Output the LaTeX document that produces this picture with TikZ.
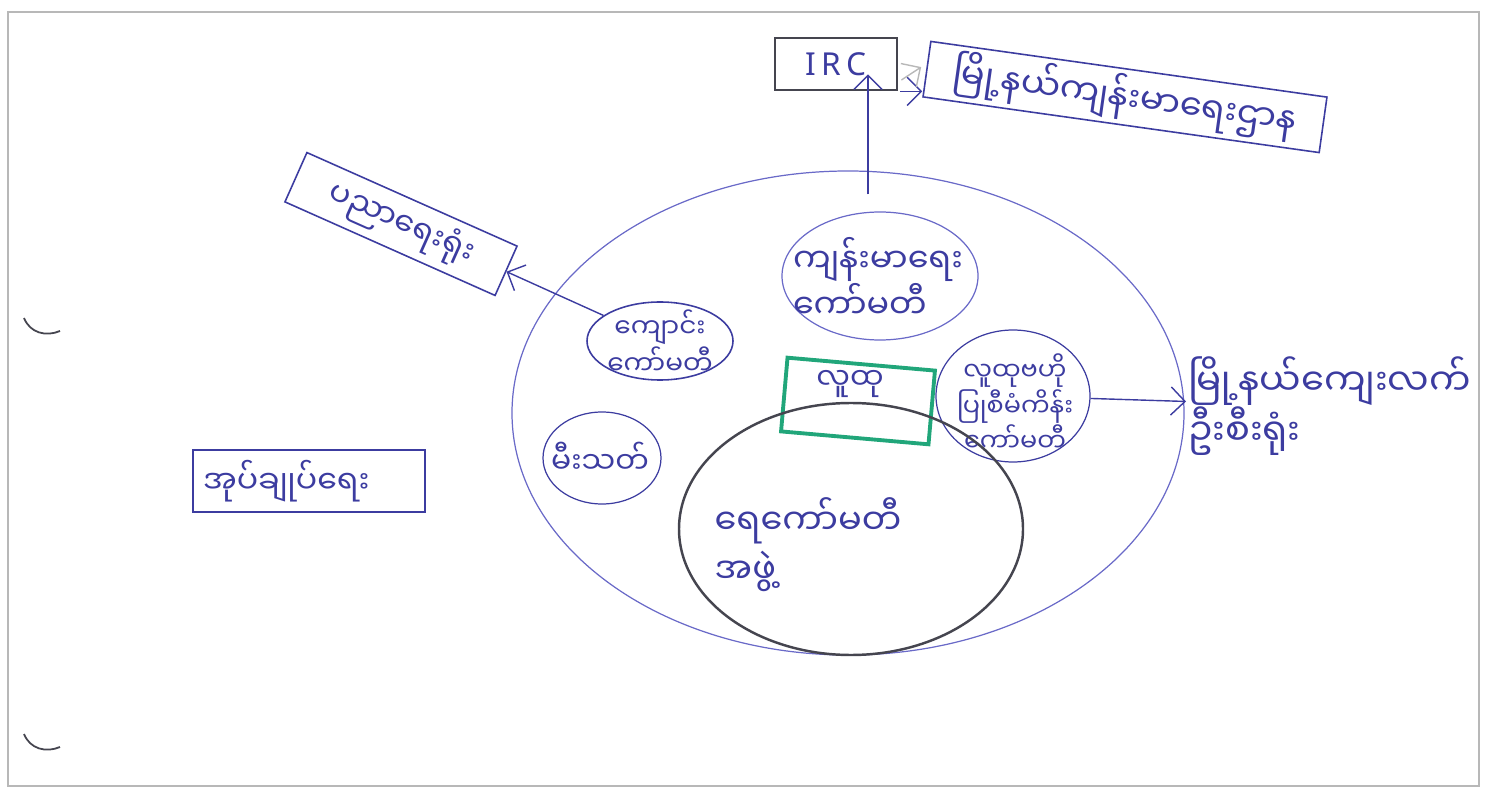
\documentclass[tikz,border=0pt]{standalone}
\usepackage{fontspec}
\setmainfont{Noto Sans}
\newfontfamily\mmfont[Script=Myanmar]{Noto Sans Myanmar UI}
\usetikzlibrary{arrows.meta,shapes.geometric}
\definecolor{ink}{HTML}{3C3CA0}
\definecolor{pale}{HTML}{6A6AC8}
\definecolor{lead}{HTML}{45454F}
\definecolor{mint}{HTML}{21A67A}
\definecolor{sheet}{HTML}{B8B8B8}

\begin{document}
\begin{tikzpicture}[x=0.02cm, y=-0.02cm]

        \def\px{0.02cm}             % one pixel of the scan
        \tikzstyle{committee}=[ellipse,draw=pale,line width=0.7pt,inner sep=0pt]
        \tikzstyle{annot}=[text=ink,align=center,inner sep=1pt]
        \tikzstyle{office}=[rectangle,draw=ink,line width=0.9pt,inner sep=0pt,text=ink]
        \tikzstyle{arr}=[->,arrows={-Straight Barb[length=8pt]},draw=ink,line width=0.8pt]
        \tikzset{fontscale/.style 2 args = {font={\mmfont\fontsize{#1pt}{#2pt}\selectfont}}}

        \useasboundingbox (0,0) rectangle (1491,790);

        % Draw the sheet
        \draw[sheet, line width=0.6pt] (8,12) rectangle (1479,786);
        \draw[lead, line width=1pt] (24,318) .. controls (30,333) and (46,337) .. (60,331);
        \draw[lead, line width=1pt] (24,734) .. controls (30,749) and (46,753) .. (60,747);

        % Draw the camp and its committees
        \node[committee, minimum width=672*\px, minimum height=484*\px] (camp) at (848,413) {};
        \node[committee, minimum width=196*\px, minimum height=128*\px] (health) at (880,276) {};
        \node[annot, align=left, fontscale={19}{26}] (healthlbl) at (878,278) {ကျန်းမာရေး\\ကော်မတီ};
        \node[committee, draw=ink, line width=0.9pt, minimum width=146*\px, minimum height=78*\px] (school) at (660,341) {};
        \node[annot, fontscale={15}{17}] (schoollbl) at (660,342) {ကျောင်း\\ကော်မတီ};
        \node[committee, draw=ink, minimum width=118*\px, minimum height=92*\px] (fire) at (602,458) {};
        \node[annot, fontscale={17}{20}] (firelbl) at (600,458) {မီးသတ်};
        \node[committee, draw=ink, minimum width=154*\px, minimum height=132*\px] (project) at (1013,396) {};
        \node[annot, fontscale={14.5}{18}] (projectlbl) at (1015,403) {လူထုဗဟို\\ပြုစီမံကိန်း\\ကော်မတီ};

        % Draw the community box and the water committee
        \node[office, draw=mint, line width=2.2pt, minimum width=148*\px, minimum height=74*\px, rotate=-5] (crowd) at (858,401) {};
        \node[annot, fontscale={17}{20}] (crowdlbl) at (850,384) {လူထု};
        \node[committee, draw=lead, line width=1.4pt, minimum width=344*\px, minimum height=252*\px] (water) at (851,529) {};
        \node[annot, align=left, fontscale={20}{28}] (waterlbl) at (808,545) {ရေကော်မတီ\\အဖွဲ့};

        % Draw the offices
        \node[office, draw=lead, line width=1.6pt, minimum width=122*\px, minimum height=52*\px, font=\fontsize{18}{20}\selectfont] (irc) at (836,64) {I\,R\,C};
        \node[office, minimum width=400*\px, minimum height=56*\px, rotate=-8, fontscale={20}{22}] (township) at (1125,97) {မြို့နယ်ကျန်းမာရေးဌာန};
        \node[office, minimum width=230*\px, minimum height=54*\px, rotate=-24, fontscale={18}{22}] (edu) at (401,224) {ပညာရေးရုံး};
        \node[office, minimum width=232*\px, minimum height=62*\px, text width=212*\px, align=left, fontscale={18}{22}] (admin) at (309,481) {အုပ်ချုပ်ရေး};
        \node[annot, anchor=west, align=left, fontscale={21}{28}] (rural) at (1186,406) {မြို့နယ်ကျေးလက်\\ဦးစီးရုံး};

        % Connect the committees to the offices
        \draw[arr] ([shift={(-12,-17)}]health.north) -- ([shift={(-12,-17)}]health.north |- irc.south);
        \draw[arr] ([xshift=2*\px]irc.south east) -- (irc.south east -| township.south west);
        \draw[arr, draw=sheet] ([shift={(3,16)}]irc.east) -- ([shift={(-5,-2)}]township.west);
        \draw[arr] (school) -- (edu);
        \draw[arr] (project) -- (rural);

\end{tikzpicture}
\end{document}
